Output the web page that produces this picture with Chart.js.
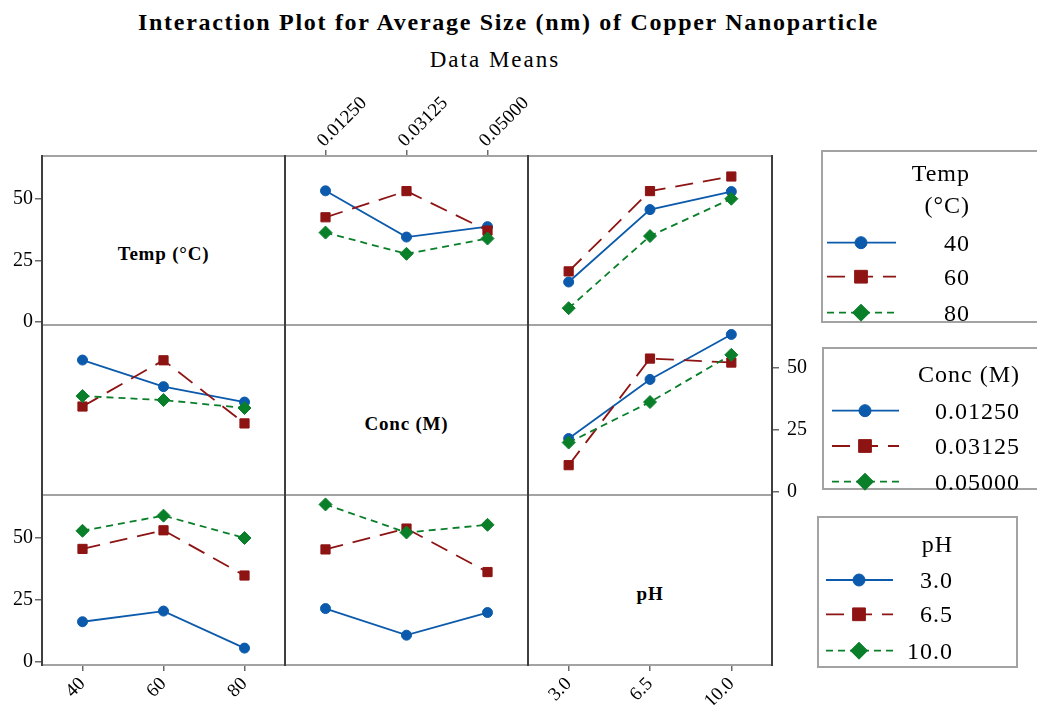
<!DOCTYPE html>
<html>
<head>
<meta charset="utf-8">
<script src="https://cdn.jsdelivr.net/npm/chart.js@4.4.1/dist/chart.umd.min.js"></script>
<style>
  html, body { margin: 0; padding: 0; background: #fff; }
  #stage { position: relative; width: 1037px; height: 708px; overflow: hidden;
           font-family: 'Liberation Serif', 'Times New Roman', Times, serif; color: #000; }
  #stage canvas { position: absolute; left: 0; top: 0; }
  .txt { position: absolute; white-space: nowrap; line-height: 1; }
  .title { left: 0; width: 1017px; text-align: center; top: 10px; font-size: 24px; font-weight: bold; letter-spacing: 1.7px; }
  .sub { left: 0; width: 990px; text-align: center; top: 48px; font-size: 23px; letter-spacing: 2px; }
  .diag { text-align: center; font-size: 19px; font-weight: bold; letter-spacing: 0.8px; }
  .lbox { position: absolute; border: 2px solid #a3a3a3; box-sizing: border-box; }
  .ltxt { text-align: right; font-size: 24px; letter-spacing: 1px; }
</style>
</head>
<body>
<div id="stage">
  <div class="txt title">Interaction Plot for Average Size (nm) of Copper Nanoparticle</div>
  <div class="txt sub">Data Means</div>
  <div class="txt diag" style="left:42px;width:243px;top:244px">Temp (°C)</div>
  <div class="txt diag" style="left:285px;width:243px;top:414px">Conc (M)</div>
  <div class="txt diag" style="left:528px;width:244px;top:584px">pH</div>
</div>
<script>
// ---- factor levels (category tick labels) ----
const tempLevels = ['40', '60', '80'];
const concLevels = ['0.01250', '0.03125', '0.05000'];
const phLevels = ['3.0', '6.5', '10.0'];

// ---- y axis ----
const yTickValues = [0, 25, 50];
const yMin = -1.2;
const yMax = 67.2;

// ---- mean average size (nm) ----
// Temp lines, x = Conc
const temp40ByConc = [53.1, 34.4, 38.6];
const temp60ByConc = [42.4, 53.0, 37.0];
const temp80ByConc = [36.2, 27.6, 33.8];
// Temp lines, x = pH
const temp40ByPh = [16.2, 45.5, 52.8];
const temp60ByPh = [20.5, 53.0, 58.9];
const temp80ByPh = [5.6, 34.8, 49.9];
// Conc lines, x = Temp
const conc1ByTemp = [53.1, 42.4, 36.2];
const conc2ByTemp = [34.4, 53.0, 27.6];
const conc3ByTemp = [38.6, 37.0, 33.8];
// Conc lines, x = pH
const conc1ByPh = [21.5, 45.3, 63.4];
const conc2ByPh = [10.8, 53.7, 52.1];
const conc3ByPh = [19.9, 36.2, 55.2];
// pH lines, x = Temp
const ph3ByTemp = [16.2, 20.5, 5.6];
const ph65ByTemp = [45.5, 53.0, 34.8];
const ph10ByTemp = [52.8, 58.9, 49.9];
// pH lines, x = Conc
const ph3ByConc = [21.5, 10.8, 19.9];
const ph65ByConc = [45.3, 53.7, 36.2];
const ph10ByConc = [63.4, 52.1, 55.2];

// ---- layout ----
const W = 1037, H = 708;
const colEdges = [42, 285, 528, 772];
const rowEdges = [156, 325, 495, 665];
const SERIF = "'Liberation Serif', 'Times New Roman', Times, serif";
const TICK_COLOR = '#6a6a6a';
const FRAME_H = '#a3a3a3';
const FRAME_V = '#3f3f3f';

const seriesStyle = [
  { color: '#0b5aab', dash: [], pointStyle: 'circle', radius: 5, legendRadius: 6 },
  { color: '#8e1414', dash: [18, 10], pointStyle: 'rect', radius: 6.5, legendRadius: 9 },
  { color: '#0a7f2a', dash: [7, 5], pointStyle: 'rectRot', radius: 6.5, legendRadius: 8.5 }
];

const panels = [
  { row: 0, col: 0, labels: tempLevels, names: tempLevels, series: [], yAxis: 'left' },
  { row: 0, col: 1, labels: concLevels, names: tempLevels, series: [temp40ByConc, temp60ByConc, temp80ByConc], xAxis: 'top' },
  { row: 0, col: 2, labels: phLevels, names: tempLevels, series: [temp40ByPh, temp60ByPh, temp80ByPh] },
  { row: 1, col: 0, labels: tempLevels, names: concLevels, series: [conc1ByTemp, conc2ByTemp, conc3ByTemp] },
  { row: 1, col: 1, labels: concLevels, names: concLevels, series: [] },
  { row: 1, col: 2, labels: phLevels, names: concLevels, series: [conc1ByPh, conc2ByPh, conc3ByPh], yAxis: 'right' },
  { row: 2, col: 0, labels: tempLevels, names: phLevels, series: [ph3ByTemp, ph65ByTemp, ph10ByTemp], xAxis: 'bottom', yAxis: 'left' },
  { row: 2, col: 1, labels: concLevels, names: phLevels, series: [ph3ByConc, ph65ByConc, ph10ByConc] },
  { row: 2, col: 2, labels: phLevels, names: phLevels, series: [], xAxis: 'bottom' }
];

const AXIS_SIZE = { left: 42, right: 50, top: 70, bottom: 40 };

// frame around each cell: light horizontal rules, dark vertical rules
const cellFrame = {
  id: 'cellFrame',
  beforeDatasetsDraw(chart) {
    const { ctx, chartArea: a } = chart;
    ctx.save();
    ctx.lineWidth = 2;
    ctx.strokeStyle = FRAME_H;
    ctx.beginPath();
    ctx.moveTo(a.left, a.top); ctx.lineTo(a.right, a.top);
    ctx.moveTo(a.left, a.bottom); ctx.lineTo(a.right, a.bottom);
    ctx.stroke();
    ctx.strokeStyle = FRAME_V;
    ctx.beginPath();
    ctx.moveTo(a.left, a.top - 1); ctx.lineTo(a.left, a.bottom + 1);
    ctx.moveTo(a.right, a.top - 1); ctx.lineTo(a.right, a.bottom + 1);
    ctx.stroke();
    ctx.restore();
  }
};

function xScale(labels, pos) {
  const s = {
    type: 'category', labels: labels, offset: true,
    position: pos || 'bottom', display: !!pos,
    grid: { display: true, drawOnChartArea: false, drawTicks: true, tickLength: 6,
            color: TICK_COLOR, lineWidth: 1.5 },
    border: { display: false },
    ticks: { autoSkip: false, minRotation: 45, maxRotation: 45,
             padding: pos === 'top' ? -2 : 2, labelOffset: pos === 'top' ? 11 : 0,
             color: '#000', font: { family: SERIF, size: 19 } }
  };
  if (pos) s.afterFit = sc => { sc.height = AXIS_SIZE[pos]; };
  return s;
}

function yScale(pos) {
  const s = {
    type: 'linear', min: yMin, max: yMax,
    position: pos || 'left', display: !!pos,
    grid: { display: true, drawOnChartArea: false, drawTicks: true, tickLength: 7,
            color: TICK_COLOR, lineWidth: 1.5 },
    border: { display: false },
    ticks: { padding: pos === 'right' ? 8 : 2, color: '#000', font: { family: SERIF, size: 20 } },
    afterBuildTicks: sc => { sc.ticks = yTickValues.map(v => ({ value: v })); }
  };
  if (pos) s.afterFit = sc => { sc.width = AXIS_SIZE[pos]; };
  return s;
}

const stage = document.getElementById('stage');

panels.forEach(p => {
  const left = colEdges[p.col], right = colEdges[p.col + 1];
  const top = rowEdges[p.row], bottom = rowEdges[p.row + 1];
  const padding = {
    left: left - (p.yAxis === 'left' ? AXIS_SIZE.left : 0),
    right: W - right - (p.yAxis === 'right' ? AXIS_SIZE.right : 0),
    top: top - (p.xAxis === 'top' ? AXIS_SIZE.top : 0),
    bottom: H - bottom - (p.xAxis === 'bottom' ? AXIS_SIZE.bottom : 0)
  };
  const cv = document.createElement('canvas');
  cv.width = W; cv.height = H;
  stage.appendChild(cv);
  new Chart(cv, {
    type: 'line',
    data: {
      labels: p.labels,
      datasets: p.series.map((vals, i) => {
        const st = seriesStyle[i];
        return {
          label: p.names[i], data: vals,
          borderColor: st.color, backgroundColor: st.color,
          borderWidth: 1.8, borderDash: st.dash,
          pointStyle: st.pointStyle, pointRadius: st.radius,
          pointBackgroundColor: st.color, pointBorderColor: st.color, pointBorderWidth: 1,
          tension: 0, fill: false, order: 3 - i
        };
      })
    },
    options: {
      responsive: false, animation: false, devicePixelRatio: 1, events: [],
      layout: { padding: padding },
      plugins: { legend: { display: false }, tooltip: { enabled: false }, title: { display: false } },
      scales: { x: xScale(p.labels, p.xAxis), y: yScale(p.yAxis) }
    },
    plugins: [cellFrame]
  });
});

// ---- legends ----
const legends = [
  { title: ['Temp', '(°C)'], titleTops: [161, 193], names: tempLevels,
    box: { left: 821, top: 150, right: 1040, bottom: 323 }, textRight: 970,
    ys: [242.7, 276.7, 312.7], line: [827, 896], mark: 861 },
  { title: ['Conc (M)'], titleTops: [362], names: concLevels,
    box: { left: 822, top: 347, right: 1040, bottom: 490 }, textRight: 1020,
    ys: [410.7, 446, 481.7], line: [832, 899], mark: 865 },
  { title: ['pH'], titleTops: [532], names: phLevels,
    box: { left: 817, top: 516, right: 1018, bottom: 668 }, textRight: 953,
    ys: [580, 614.3, 650.7], line: [826, 893], mark: 859 }
];

legends.forEach(lg => {
  const b = document.createElement('div');
  b.className = 'lbox';
  b.style.left = lg.box.left + 'px'; b.style.top = lg.box.top + 'px';
  b.style.width = (lg.box.right - lg.box.left) + 'px';
  b.style.height = (lg.box.bottom - lg.box.top) + 'px';
  stage.appendChild(b);
  const addText = (str, top) => {
    const d = document.createElement('div');
    d.className = 'txt ltxt';
    d.textContent = str;
    d.style.right = (W - lg.textRight) + 'px';
    d.style.top = top + 'px';
    stage.appendChild(d);
  };
  lg.title.forEach((t, i) => addText(t, lg.titleTops[i]));
  lg.names.forEach((n, i) => addText(n, lg.ys[i] - 12));
});

const lc = document.createElement('canvas');
lc.width = W; lc.height = H;
stage.appendChild(lc);
const lctx = lc.getContext('2d');
legends.forEach(lg => {
  lg.ys.forEach((y, i) => {
    const st = seriesStyle[i];
    lctx.save();
    lctx.strokeStyle = st.color; lctx.lineWidth = 1.8; lctx.setLineDash(st.dash);
    lctx.beginPath(); lctx.moveTo(lg.line[0], y); lctx.lineTo(lg.line[1], y); lctx.stroke();
    lctx.restore();
    lctx.save();
    lctx.fillStyle = st.color; lctx.strokeStyle = st.color; lctx.lineWidth = 1;
    Chart.helpers.drawPoint(lctx, { pointStyle: st.pointStyle, radius: st.legendRadius, borderWidth: 1, rotation: 0 }, lg.mark, y);
    lctx.restore();
  });
});
</script>
</body>
</html>
